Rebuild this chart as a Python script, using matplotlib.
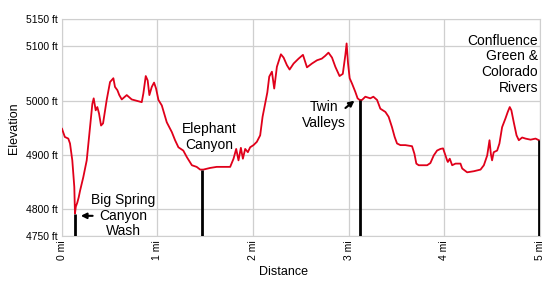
import numpy as np
import matplotlib.pyplot as plt

plt.rcParams['font.family'] = ['Liberation Sans', 'DejaVu Sans']

# trail profile (miles, feet)
dist = [0.00, 0.03, 0.066, 0.084, 0.108, 0.129, 0.136, 0.145, 0.16, 0.175, 0.189, 0.223, 0.259,
        0.294, 0.318, 0.332, 0.353, 0.37, 0.388, 0.409, 0.43, 0.468, 0.503, 0.538, 0.555, 0.58,
        0.6, 0.626, 0.678, 0.73, 0.835, 0.852, 0.877, 0.897, 0.915, 0.94, 0.964, 0.985, 1.01,
        1.045, 1.08, 1.097, 1.15, 1.184, 1.219, 1.27, 1.307, 1.36, 1.41, 1.447, 1.48, 1.55,
        1.62, 1.761, 1.796, 1.824, 1.848, 1.873, 1.894, 1.918, 1.946, 1.97, 2.005, 2.04, 2.075,
        2.10, 2.128, 2.15, 2.17, 2.198, 2.222, 2.25, 2.292, 2.32, 2.355, 2.383, 2.425, 2.477,
        2.523, 2.565, 2.617, 2.67, 2.72, 2.755, 2.79, 2.827, 2.862, 2.906, 2.94, 2.967, 2.98,
        2.995, 3.012, 3.037, 3.071, 3.095, 3.117, 3.141, 3.176, 3.228, 3.26, 3.299, 3.333,
        3.386, 3.42, 3.455, 3.483, 3.508, 3.543, 3.595, 3.665, 3.69, 3.71, 3.735, 3.823, 3.857,
        3.892, 3.927, 3.962, 3.99, 4.015, 4.032, 4.04, 4.06, 4.085, 4.12, 4.172, 4.19, 4.242,
        4.312, 4.382, 4.417, 4.452, 4.476, 4.49, 4.503, 4.52, 4.556, 4.58, 4.608, 4.643, 4.667,
        4.688, 4.705, 4.73, 4.759, 4.783, 4.818, 4.853, 4.906, 4.958, 4.993]
elev = [4948, 4933, 4930, 4921, 4890, 4841, 4792, 4805, 4812, 4822, 4834, 4859, 4890,
        4951, 4994, 5004, 4982, 4988, 4976, 4954, 4958, 5001, 5034, 5041, 5025, 5019,
        5010, 5002, 5010, 5002, 4997, 5013, 5045, 5037, 5010, 5025, 5033, 5022, 5001,
        4991, 4970, 4960, 4942, 4927, 4914, 4908, 4896, 4881, 4878, 4873, 4873, 4876,
        4878, 4878, 4893, 4911, 4890, 4913, 4893, 4911, 4905, 4914, 4918, 4924, 4936,
        4970, 4995, 5015, 5044, 5053, 5022, 5062, 5085, 5079, 5065, 5057, 5068, 5077,
        5084, 5061, 5068, 5074, 5077, 5082, 5088, 5079, 5062, 5045, 5049, 5084, 5105,
        5068, 5041, 5031, 5016, 5004, 5001, 5001, 5007, 5004, 5007, 5001, 4985,
        4979, 4970, 4951, 4933, 4921, 4918, 4918, 4916, 4902, 4884, 4881, 4881, 4885,
        4899, 4908, 4911, 4912, 4899, 4890, 4887, 4893, 4881, 4884, 4884, 4875, 4868,
        4870, 4873, 4881, 4899, 4927, 4902, 4890, 4905, 4908, 4921, 4951, 4967, 4979,
        4988, 4982, 4960, 4936, 4927, 4932, 4930, 4928, 4930, 4927]

# waypoints: where the black posts stand and how high they reach
mark_dist = [0.136, 1.464, 3.117, 4.99]
mark_top = [4792, 4873, 5001, 4927]

ytick_vals = [4750, 4800, 4900, 5000, 5100, 5150]
xtick_vals = [0, 1, 2, 3, 4, 5]

fig = plt.figure(figsize=(5.5, 2.87), dpi=100)
ax = fig.add_axes([0.1127, 0.176, 0.8683, 0.758])

ax.plot(dist, elev, color='#e0001a', lw=1.3, zorder=3)
ax.vlines(mark_dist, 4750, mark_top, colors='black', lw=2, zorder=4)

ax.set_xlim(0, 5)
ax.set_ylim(4750, 5150)
ax.set_yticks(ytick_vals)
ax.set_yticklabels([f'{v} ft' for v in ytick_vals], fontsize=7.5)
ax.set_xticks(xtick_vals)
ax.set_xticklabels([f'{v} mi' for v in xtick_vals], fontsize=7.5, rotation=90)
ax.tick_params(length=0, pad=3)
ax.grid(color='#cfcfcf', lw=0.9)
for sp in ax.spines.values():
    sp.set_color('#cfcfcf')

fig.text(0.025, 0.555, 'Elevation', rotation=90, fontsize=9, ha='center', va='center')
fig.text(0.516, 0.053, 'Distance', fontsize=9, ha='center', va='center')

# labels
ax.text(0.64, 4788, 'Big Spring\nCanyon\nWash', fontsize=10, ha='center', va='center',
        linespacing=1.15)
ax.annotate('', xy=(0.168, 4788), xytext=(0.35, 4788),
            arrowprops=dict(arrowstyle='-|>', color='black', lw=1.5, mutation_scale=8))
ax.text(1.54, 4933, 'Elephant\nCanyon', fontsize=10, ha='center', va='center',
        linespacing=1.15)
ax.text(2.746, 4973, 'Twin\nValleys', fontsize=10, ha='center', va='center',
        linespacing=1.15)
ax.annotate('', xy=(3.085, 5003), xytext=(2.945, 4983),
            arrowprops=dict(arrowstyle='-|>', color='black', lw=1.5, mutation_scale=8))
ax.text(4.986, 5067, 'Confluence\nGreen &\nColorado\nRivers', fontsize=10, ha='right',
        va='center', multialignment='right', linespacing=1.15)

fig.savefig('out.png', dpi=100)
